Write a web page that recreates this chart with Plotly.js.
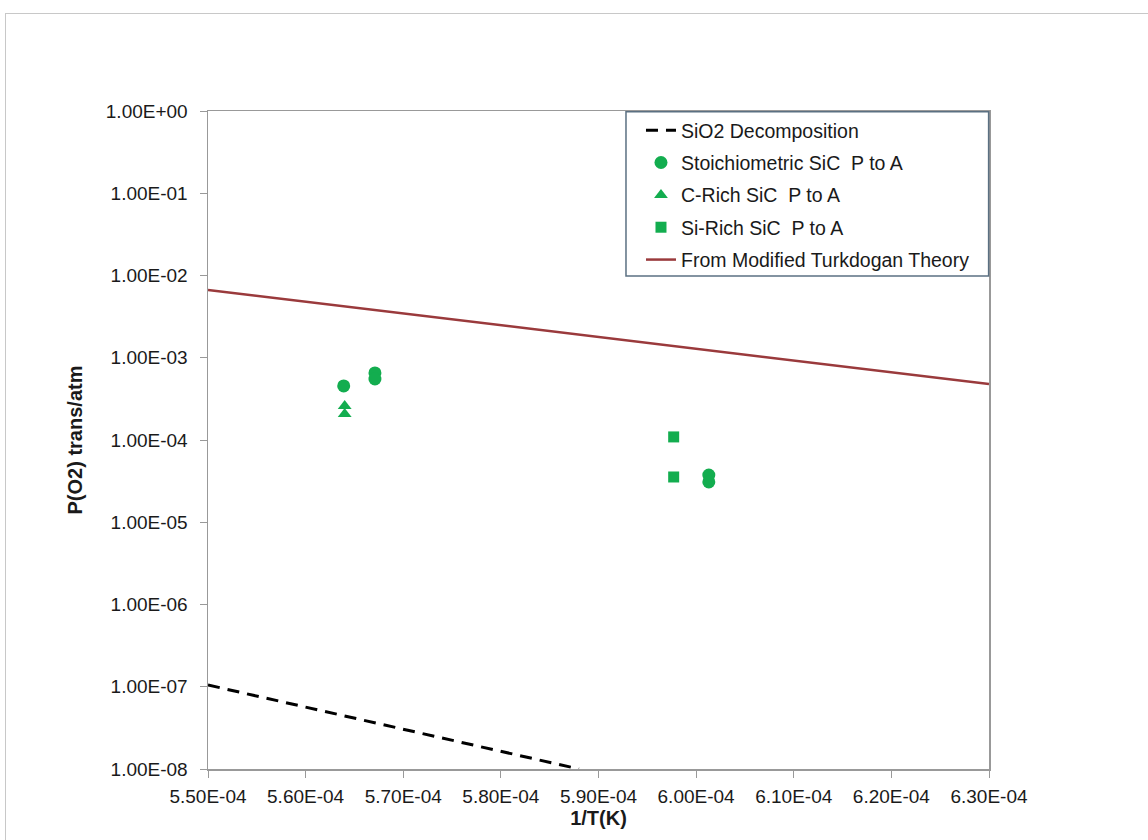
<!DOCTYPE html>
<html>
<head>
<meta charset="utf-8">
<script src="https://cdn.plot.ly/plotly-3.0.1.min.js"></script>
<style>
  html, body { margin: 0; padding: 0; background: #fff; overflow: hidden; }
  #frame { position: absolute; left: 5px; top: 13px; width: 1200px; height: 900px; border: 1px solid #c8c8c8; pointer-events: none; }
  #chart { position: absolute; left: 0; top: 0; width: 1148px; height: 840px; }
</style>
</head>
<body>
<div id="chart"></div>
<div id="frame"></div>
<script>
// ---- data ----
const sio2X = [5.50e-4, 5.88e-4];
const sio2Y = [1.05e-7, 1.0e-8];

const stoichX = [5.639e-4, 5.671e-4, 5.671e-4, 6.013e-4, 6.013e-4];
const stoichY = [4.54e-4, 6.53e-4, 5.52e-4, 3.75e-5, 3.09e-5];

const cRichX = [5.640e-4, 5.640e-4];
const cRichY = [2.59e-4, 2.07e-4];

const siRichX = [5.977e-4, 5.977e-4];
const siRichY = [1.09e-4, 3.55e-5];

const turkX = [5.50e-4, 6.30e-4];
const turkY = [6.67e-3, 4.80e-4];

const xTickVals = [5.5e-4, 5.6e-4, 5.7e-4, 5.8e-4, 5.9e-4, 6.0e-4, 6.1e-4, 6.2e-4, 6.3e-4];
const xTickText = ["5.50E-04", "5.60E-04", "5.70E-04", "5.80E-04", "5.90E-04", "6.00E-04", "6.10E-04", "6.20E-04", "6.30E-04"];
const yTickVals = [1e-8, 1e-7, 1e-6, 1e-5, 1e-4, 1e-3, 1e-2, 1e-1, 1e0];
const yTickText = ["1.00E-08", "1.00E-07", "1.00E-06", "1.00E-05", "1.00E-04", "1.00E-03", "1.00E-02", "1.00E-01", "1.00E+00"];

const names = ["SiO2 Decomposition", "Stoichiometric SiC  P to A", "C-Rich SiC  P to A", "Si-Rich SiC  P to A", "From Modified Turkdogan Theory"];

// ---- styling ----
const green = "#13ad4f";
const FONT = "'Liberation Sans', Arial, sans-serif";
const FS = 19;

const traces = [
  { x: sio2X, y: sio2Y, name: names[0], mode: "lines", legendgroup: "a",
    line: { color: "#000", width: 3, dash: "12px,8px" } },
  { x: stoichX, y: stoichY, name: names[1], mode: "markers", legendgroup: "b",
    marker: { color: green, size: 13, symbol: "circle" } },
  { x: cRichX, y: cRichY, name: names[2], mode: "markers", legendgroup: "c",
    marker: { color: green, size: 12, symbol: "triangle-up" } },
  { x: siRichX, y: siRichY, name: names[3], mode: "markers", legendgroup: "d",
    marker: { color: green, size: 11, symbol: "square" } },
  { x: turkX, y: turkY, name: names[4], mode: "lines", legendgroup: "e",
    line: { color: "#9a3a3c", width: 2.5 } }
];

const layout = {
  width: 1148, height: 840,
  margin: { l: 208, r: 159, t: 111, b: 71 },
  paper_bgcolor: "#fff", plot_bgcolor: "#fff",
  font: { family: FONT, size: FS, color: "#1a1a1a" },
  showlegend: true,
  shapes: [
    { type: "rect", xref: "paper", yref: "paper", x0: 0.5352, x1: 0.9995, y0: 0.7492, y1: 0.999,
      line: { color: "#5b7082", width: 1.5 }, fillcolor: "#fff", layer: "above" }
  ],
  legend: {
    x: 0.5544, y: 1, xanchor: "left", yanchor: "top",
    bgcolor: "rgba(0,0,0,0)", borderwidth: 0,
    font: { family: FONT, size: 19.5, color: "#1a1a1a" },
    traceorder: "grouped", tracegroupgap: 4
  },
  xaxis: {
    range: [5.5e-4, 6.3e-4],
    tickvals: xTickVals, ticktext: xTickText,
    ticks: "outside", ticklen: 7, tickcolor: "#999", tickwidth: 1,
    showline: true, linecolor: "#999", linewidth: 1.5, mirror: true,
    showgrid: false, zeroline: false,
    ticklabelstandoff: 3,
    tickfont: { family: FONT, size: FS, color: "#1a1a1a" },
    title: { text: "<b>1/T(K)</b>", font: { family: FONT, size: 20, color: "#1a1a1a" }, standoff: 2 }
  },
  yaxis: {
    type: "log", range: [-8, 0],
    tickvals: yTickVals, ticktext: yTickText,
    ticks: "outside", ticklen: 7, tickcolor: "#999", tickwidth: 1,
    showline: true, linecolor: "#999", linewidth: 1.5, mirror: true,
    showgrid: false, zeroline: false,
    ticklabelstandoff: 8,
    tickfont: { family: FONT, size: FS, color: "#1a1a1a" },
    title: { text: "<b>P(O2) trans/atm</b>", font: { family: FONT, size: 20, color: "#1a1a1a" }, standoff: 18 }
  }
};

Plotly.newPlot("chart", traces, layout, { displayModeBar: false, staticPlot: true });
</script>
</body>
</html>
